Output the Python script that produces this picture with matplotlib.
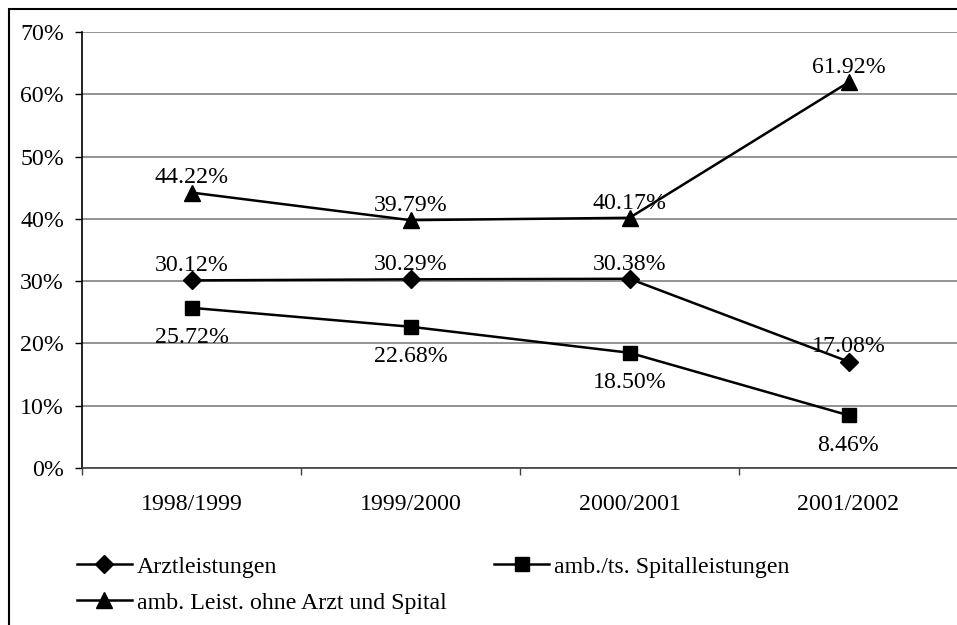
import matplotlib.pyplot as plt
from matplotlib.patches import Rectangle
from matplotlib.ticker import FixedLocator

years = ['1998/1999', '1999/2000', '2000/2001', '2001/2002']
arzt = [30.12, 30.29, 30.38, 17.08]
spital = [25.72, 22.68, 18.50, 8.46]
leist = [44.22, 39.79, 40.17, 61.92]
yticks = [0, 10, 20, 30, 40, 50, 60, 70]

plt.rcParams['font.family'] = ['Liberation Serif', 'DejaVu Serif']
plt.rcParams['font.size'] = 17.2

fig = plt.figure(figsize=(9.57, 6.25), dpi=100)
ax = fig.add_axes([82 / 957, 1 - 468 / 625, 876 / 957, 436 / 625])

x = list(range(len(years)))
l1, = ax.plot(x, arzt, color='black', lw=1.8, marker='D', ms=9.5, label='Arztleistungen')
l2, = ax.plot(x, spital, color='black', lw=1.8, marker='s', ms=10, label='amb./ts. Spitalleistungen')
l3, = ax.plot(x, leist, color='black', lw=1.8, marker='^', ms=11, label='amb. Leist. ohne Arzt und Spital')

# data labels
for xi, v in zip(x, arzt):
    ax.annotate(f'{v:.2f}%', (xi, v), xytext=(0, 3), textcoords='offset points',
                ha='center', va='bottom')
for xi, v in zip(x, leist):
    ax.annotate(f'{v:.2f}%', (xi, v), xytext=(0, 3), textcoords='offset points',
                ha='center', va='bottom')
for xi, v in zip(x, spital):
    ax.annotate(f'{v:.2f}%', (xi, v), xytext=(0, -14), textcoords='offset points',
                ha='center', va='top')

ax.set_xlim(-0.5, len(years) - 0.5)
ax.set_ylim(0, 70)
ax.set_yticks(yticks)
ax.set_yticklabels([f'{t}%' for t in yticks])
ax.set_xticks(x)
ax.set_xticklabels(years)
ax.xaxis.set_minor_locator(FixedLocator([i - 0.5 for i in range(len(years) + 1)]))
ax.tick_params(axis='x', which='major', length=0, pad=19)
ax.tick_params(axis='x', which='minor', length=5, width=1, color='#404040')
ax.tick_params(axis='y', length=5, width=1, pad=8)

ax.grid(axis='y', color='#808080', lw=1.2)
ax.set_axisbelow(True)
for s in ['top', 'right']:
    ax.spines[s].set_visible(False)
ax.spines['left'].set_linewidth(1.2)
ax.spines['bottom'].set_linewidth(1.2)
ax.spines['bottom'].set_color('#404040')

fig.legend(handles=[l1, l3, l2], ncol=2, loc='upper left',
           bbox_to_anchor=(77 / 957, 1 - 556 / 625), frameon=False,
           borderpad=0, borderaxespad=0, handlelength=2.3, handletextpad=0.2,
           columnspacing=2.0, labelspacing=0.6)

fig.add_artist(Rectangle((9 / 957, -0.1), 1.2, 1 - 9 / 625 + 0.1,
                         transform=fig.transFigure, fill=False, lw=1.5, ec='black'))

fig.savefig('out.png', dpi=100)
